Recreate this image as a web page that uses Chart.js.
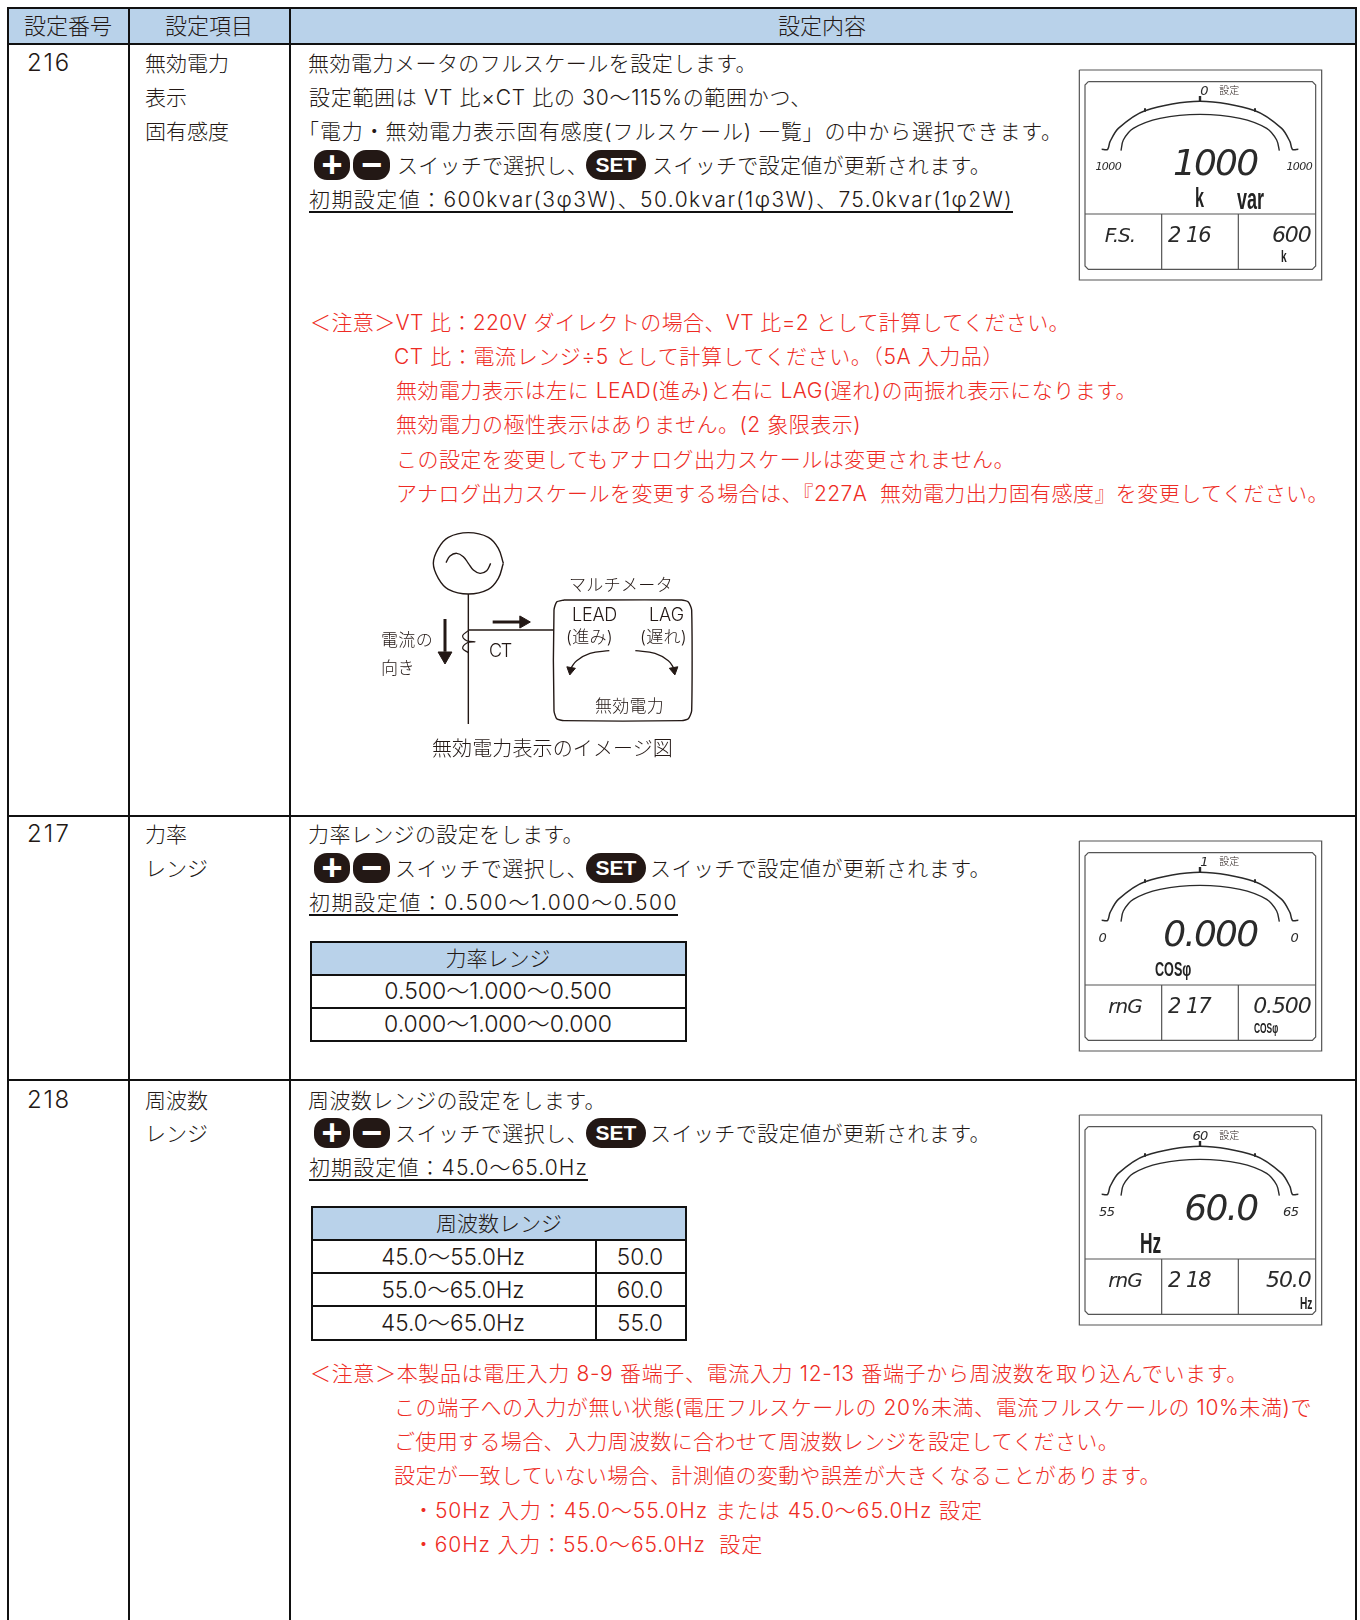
<!DOCTYPE html>
<html lang="ja">
<head>
<meta charset="utf-8">
<title>設定内容</title>
<script src="https://cdn.jsdelivr.net/npm/chart.js@4"></script>
<style>
html,body{margin:0;padding:0;background:#fff;}
#page{position:relative;width:1360px;height:1620px;overflow:hidden;background:#fff;color:#231815;font-family:Inter,"Noto Sans CJK JP","Noto Sans",sans-serif;font-weight:300;}
#page canvas{position:absolute;}
.rule{position:absolute;background:#111;}
.band{position:absolute;background:#b9d2ea;}
.t{position:absolute;white-space:pre;line-height:1;}
.red{color:#ee2b24;}
.under{border-bottom:2px solid #111;padding-bottom:1px;}
.btn{position:absolute;background:#231815;color:#fff;font-family:"Liberation Sans",sans-serif;font-weight:700;text-align:center;}
.lcd{font-family:"DejaVu Sans",sans-serif;font-style:italic;font-weight:200;color:#2a2a2a;letter-spacing:-.05em;}
.unit{font-family:"Liberation Sans",sans-serif;font-weight:700;color:#222;transform:scaleX(.6);transform-origin:left center;}
</style>
</head>
<body>
<div id="page"></div>
<script>
window.onload = init;

/* table text */
var headers = ['設定番号', '設定項目', '設定内容'];
var settingNumbers = ['216', '217', '218'];
var settingNames = ['無効電力', '表示', '固有感度', '力率', 'レンジ', '周波数', 'レンジ'];

var lines216 = ['無効電力メータのフルスケールを設定します。',
    '設定範囲は VT 比×CT 比の 30～115%の範囲かつ、',
    '「電力・無効電力表示固有感度(フルスケール) 一覧」の中から選択できます。',
    'スイッチで選択し、',
    'スイッチで設定値が更新されます。',
    '初期設定値：600kvar(3φ3W)、50.0kvar(1φ3W)、75.0kvar(1φ2W)'];
var notes216 = ['＜注意＞VT 比：220V ダイレクトの場合、VT 比=2 として計算してください。',
    'CT 比：電流レンジ÷5 として計算してください。（5A 入力品）',
    '無効電力表示は左に LEAD(進み)と右に LAG(遅れ)の両振れ表示になります。',
    '無効電力の極性表示はありません。(2 象限表示)',
    'この設定を変更してもアナログ出力スケールは変更されません。',
    'アナログ出力スケールを変更する場合は、『227A  無効電力出力固有感度』を変更してください。'];
var lines217 = ['力率レンジの設定をします。',
    'スイッチで選択し、',
    'スイッチで設定値が更新されます。',
    '初期設定値：0.500～1.000～0.500'];
var lines218 = ['周波数レンジの設定をします。',
    'スイッチで選択し、',
    'スイッチで設定値が更新されます。',
    '初期設定値：45.0～65.0Hz'];
var notes218 = ['＜注意＞本製品は電圧入力 8-9 番端子、電流入力 12-13 番端子から周波数を取り込んでいます。',
    'この端子への入力が無い状態(電圧フルスケールの 20%未満、電流フルスケールの 10%未満)で',
    'ご使用する場合、入力周波数に合わせて周波数レンジを設定してください。',
    '設定が一致していない場合、計測値の変動や誤差が大きくなることがあります。',
    '・50Hz 入力：45.0～55.0Hz または 45.0～65.0Hz 設定',
    '・60Hz 入力：55.0～65.0Hz  設定'];
var powerFactorTitle = '力率レンジ';
var powerFactorRanges = ['0.500～1.000～0.500', '0.000～1.000～0.000'];
var frequencyTitle = '周波数レンジ';
var frequencyRanges = ['45.0～55.0Hz', '55.0～65.0Hz', '45.0～65.0Hz'];
var frequencyCenters = ['50.0', '60.0', '55.0'];
var diagramLabels = ['電流の', '向き', 'CT', 'マルチメータ', 'LEAD', 'LAG', '(進み)', '(遅れ)', '無効電力', '無効電力表示のイメージ図'];
var switchLabels = ['+', '−', 'SET'];

/* meter readings */
var meterTop = ['0', '1', '60'];
var meterLeft = ['1000', '0', '55'];
var meterRight = ['1000', '0', '65'];
var meterMain = ['1000', '0.000', '60.0'];
var meterMode = ['F.S.', 'rnG', 'rnG'];
var meterNumber = ['2 16', '2 17', '2 18'];
var meterValue = ['600', '0.500', '50.0'];
var meterSetLabel = '設定';

/* gauge shape */
var gaugeOuterX = [125, 143, 150, 175, 255, 420, 585, 665, 690, 697, 715];
var gaugeOuterY = [268, 268, 245, 205, 152, 124, 152, 205, 245, 268, 268];
var gaugeInnerX = [183, 190, 220, 300, 420, 540, 620, 650, 658];
var gaugeInnerY = [272, 240, 205, 175, 163, 175, 205, 240, 272];

/* circuit diagram shape */
var sourceX = [430, 415, 385, 325, 265, 235, 220, 235, 265, 325, 385, 415, 430];
var sourceY = [130, 85, 52, 38, 52, 85, 130, 175, 208, 222, 208, 175, 130];
var waveX = [258, 270, 290, 310, 325, 340, 360, 380, 392];
var waveY = [128, 108, 100, 110, 130, 150, 160, 152, 130];
var coilX = [325, 308, 320, 345, 322, 308, 325];
var coilY = [332, 347, 362, 365, 368, 385, 398];
var meterBoxX = [612, 965, 985, 995, 995, 985, 965, 612, 590, 582, 582, 590, 612];
var meterBoxY = [240, 240, 246, 270, 572, 596, 602, 602, 596, 572, 270, 246, 240];
var leadX = [748, 690, 650, 632];
var leadY = [392, 400, 422, 445];
var lagX = [826, 885, 925, 942];
var lagY = [392, 400, 422, 445];

var page;

function pairs(xs, ys) {
    var out = [];
    for (var i = 0; i < xs.length; i++) {
        out.push({x: xs[i], y: ys[i]});
    }
    return out;
}

function rule(x, y, w, h) {
    var d = document.createElement('div');
    d.className = 'rule';
    d.style.cssText = 'left:' + x + 'px;top:' + y + 'px;width:' + w + 'px;height:' + h + 'px;';
    page.appendChild(d);
}

function band(x, y, w, h) {
    var d = document.createElement('div');
    d.className = 'band';
    d.style.cssText = 'left:' + x + 'px;top:' + y + 'px;width:' + w + 'px;height:' + h + 'px;';
    page.appendChild(d);
}

/* text by left edge and vertical center, stretched to end at xEnd if given */
function text(str, x, cy, size, cls, xEnd) {
    var d = document.createElement('div');
    d.className = 't ' + (cls || '');
    d.style.fontSize = size + 'px';
    d.textContent = str;
    page.appendChild(d);
    d.style.left = x + 'px';
    d.style.top = (cy - size / 2) + 'px';
    if (xEnd) {
        var w = d.getBoundingClientRect().width;
        d.style.letterSpacing = ((xEnd - x - w) / str.length) + 'px';
    }
    return d;
}

function centered(str, cx, cy, size, cls) {
    var d = text(str, 0, cy, size, cls);
    d.style.left = (cx - d.getBoundingClientRect().width / 2) + 'px';
    return d;
}

function rightAligned(str, xr, cy, size, cls) {
    var d = text(str, 0, cy, size, cls);
    d.style.left = (xr - d.getBoundingClientRect().width) + 'px';
    return d;
}

function button(label, x, y, w, h, radius, size) {
    var d = document.createElement('div');
    d.className = 'btn';
    d.style.cssText = 'left:' + x + 'px;top:' + y + 'px;width:' + w + 'px;height:' + h + 'px;border-radius:' + radius +
        'px;font-size:' + size + 'px;line-height:' + h + 'px;';
    d.textContent = label;
    page.appendChild(d);
}

function switches(y, setX) {
    button(switchLabels[0], 314, y, 36, 30, 13, 36);
    button(switchLabels[1], 353, y, 37, 30, 13, 36);
    button(switchLabels[2], setX, y, 60, 30, 15, 21);
}

function lineSet(color, width, xs, ys, tension) {
    return {
        data: pairs(xs, ys),
        showLine: true,
        borderColor: color,
        borderWidth: width,
        pointRadius: 0,
        tension: tension || 0
    };
}

function head(x, y, rotation, size) {
    return {
        data: [{x: x, y: y}],
        pointStyle: 'triangle',
        pointRadius: size,
        pointRotation: rotation,
        backgroundColor: '#231815',
        borderColor: '#231815'
    };
}

/* every canvas uses the coordinates of the picture crop it was read from */
function drawingChart(left, top, w, h, xMin, xMax, yMin, yMax, datasets) {
    var c = document.createElement('canvas');
    c.width = w;
    c.height = h;
    c.style.cssText = 'left:' + left + 'px;top:' + top + 'px;width:' + w + 'px;height:' + h + 'px;';
    page.appendChild(c);
    return new Chart(c, {
        type: 'scatter',
        data: {datasets: datasets},
        options: {
            responsive: false,
            animation: false,
            events: [],
            layout: {padding: 0, autoPadding: false},
            plugins: {legend: {display: false}, tooltip: {enabled: false}},
            scales: {
                x: {type: 'linear', display: false, min: xMin, max: xMax},
                y: {type: 'linear', display: false, min: yMin, max: yMax, reverse: true}
            }
        }
    });
}

function drawTables() {
    band(8, 9, 1347, 35);
    rule(7, 7, 1348, 2);
    rule(7, 43, 1348, 2);
    rule(7, 815, 1348, 2);
    rule(7, 1079, 1348, 2);
    rule(7, 7, 2, 1613);
    rule(128, 7, 2, 1613);
    rule(289, 7, 2, 1613);
    rule(1355, 7, 2, 1613);

    centered(headers[0], 68, 25.5, 22);
    centered(headers[1], 209, 25.5, 22);
    centered(headers[2], 822, 25.5, 22);

    text(settingNumbers[0], 27, 63, 24, '', 71);
    text(settingNumbers[1], 27, 834, 24, '', 71);
    text(settingNumbers[2], 27, 1100, 24, '', 71);
    text(settingNames[0], 145, 63, 21);
    text(settingNames[1], 145, 97, 21);
    text(settingNames[2], 145, 131, 21);
    text(settingNames[3], 145, 834, 21);
    text(settingNames[4], 145, 868, 21);
    text(settingNames[5], 145, 1100, 21);
    text(settingNames[6], 145, 1133, 21);

    /* power factor table */
    band(311, 942, 374, 32);
    rule(310, 941, 376, 2);
    rule(310, 974, 376, 2);
    rule(310, 1007, 376, 2);
    rule(310, 1040, 376, 2);
    rule(310, 941, 2, 101);
    rule(685, 941, 2, 101);
    centered(powerFactorTitle, 498, 958, 21);
    centered(powerFactorRanges[0], 498, 991, 23);
    centered(powerFactorRanges[1], 498, 1024, 23);

    /* frequency table */
    band(312, 1206, 373, 33);
    rule(311, 1206, 375, 2);
    rule(311, 1239, 375, 2);
    rule(311, 1272, 375, 2);
    rule(311, 1305, 375, 2);
    rule(311, 1339, 375, 2);
    rule(311, 1206, 2, 135);
    rule(685, 1206, 2, 135);
    rule(595, 1239, 2, 100);
    centered(frequencyTitle, 499, 1223, 21);
    for (var i = 0; i < frequencyRanges.length; i++) {
        centered(frequencyRanges[i], 453, 1257 + i * 33.3, 22.5);
        centered(frequencyCenters[i], 640, 1257 + i * 33.3, 22.5);
    }
}

function drawBody() {
    text(lines216[0], 308, 63, 21, '', 757);
    text(lines216[1], 309, 97, 21, '', 812);
    text(lines216[2], 298, 131, 21, '', 1063);
    switches(150, 586);
    text(lines216[3], 397, 165, 21, '', 588);
    text(lines216[4], 652, 165, 21, '', 991);
    text(lines216[5], 309, 199, 21, 'under', 1013);

    var x216 = [310, 394, 396, 396, 396, 396];
    var e216 = [1070, 1004, 1137, 861, 1015, 1329];
    var y216 = [322, 356, 390.5, 424.7, 459, 493];
    for (var i = 0; i < notes216.length; i++) {
        text(notes216[i], x216[i], y216[i], 21, 'red', e216[i]);
    }

    text(lines217[0], 308, 834, 21, '', 584);
    switches(853, 586);
    text(lines217[1], 395, 868, 21, '', 588);
    text(lines217[2], 650, 868, 21, '', 991);
    text(lines217[3], 309, 902, 21, 'under', 678);

    text(lines218[0], 308, 1100, 21, '', 606);
    switches(1118, 586);
    text(lines218[1], 395, 1133, 21, '', 588);
    text(lines218[2], 650, 1133, 21, '', 991);
    text(lines218[3], 309, 1167, 21, 'under', 588);

    var x218 = [310, 394, 394, 394, 413, 413];
    var e218 = [1248, 1312, 1119, 1161, 983, 763];
    var y218 = [1373, 1407.5, 1441.6, 1475.7, 1510, 1544];
    for (var j = 0; j < notes218.length; j++) {
        text(notes218[j], x218[j], y218[j], 21, 'red', e218[j]);
    }
}

function drawDiagram() {
    var ink = '#231815';
    drawingChart(360, 520, 360, 260, 0, 1080, 0, 780, [
        lineSet(ink, 1.4, sourceX, sourceY, 0.4),
        lineSet(ink, 1.4, waveX, waveY, 0.4),
        lineSet(ink, 1.4, [325, 325], [222, 612]),
        lineSet(ink, 1.4, [325, 582], [330, 330]),
        lineSet(ink, 1.2, coilX, coilY, 0.4),
        lineSet(ink, 1.4, meterBoxX, meterBoxY, 0.2),
        lineSet(ink, 3, [255, 255], [297, 395]),
        head(255, 408, 180, 8),
        lineSet(ink, 3, [398, 480], [306, 306]),
        head(490, 306, 90, 7),
        lineSet(ink, 1.3, leadX, leadY, 0.4),
        head(632, 450, 190, 5),
        lineSet(ink, 1.3, lagX, lagY, 0.4),
        head(942, 450, 170, 5)
    ]);
    text(diagramLabels[0], 381, 640, 17, '', 433);
    text(diagramLabels[1], 381, 668, 17, '', 414);
    text(diagramLabels[2], 489, 651, 18, '', 511);
    text(diagramLabels[3], 569, 585, 17, '', 673);
    text(diagramLabels[4], 572, 615, 18, '', 617);
    text(diagramLabels[5], 649, 615, 18, '', 684);
    text(diagramLabels[6], 566, 637, 17, '', 613);
    text(diagramLabels[7], 640, 637, 17, '', 687);
    text(diagramLabels[8], 595, 706, 17, '', 664);
    text(diagramLabels[9], 432, 749, 20, '', 673);
}

function drawMeter(n, cropY) {
    var ink = '#2a2a2a';
    var frame = '#555555';
    function px(zx) { return 1060 + zx / 3; }
    function py(zy) { return cropY + zy / 3; }

    drawingChart(1077, cropY + 7, 249, 217, 51, 798, 21, 672, [
        lineSet(frame, 1.2, [58, 785, 785, 58, 58], [30, 30, 660, 660, 30]),
        lineSet(frame, 1.2, [85, 757, 767, 767, 757, 85, 75, 75, 85], [65, 65, 75, 618, 628, 628, 618, 75, 65]),
        lineSet(frame, 1.2, [75, 767], [462, 462]),
        lineSet(frame, 1.2, [305, 305], [462, 628]),
        lineSet(frame, 1.2, [535, 535], [462, 628]),
        lineSet(ink, 1.5, gaugeOuterX, gaugeOuterY, 0.3),
        lineSet(ink, 1.4, gaugeInnerX, gaugeInnerY, 0.3),
        lineSet(ink, 2.4, [420, 420], [108, 124]),
        lineSet(ink, 2, [255, 255], [145, 155]),
        lineSet(ink, 2, [585, 585], [145, 155])
    ]);

    centered(meterTop[n], px(n === 2 ? 420 : 432), py(92), 13, 'lcd');
    text(meterSetLabel, px(478), py(90), 10, '');
    var tinyL = n === 0 ? 145 : (n === 1 ? 127 : 140);
    var tinyR = n === 0 ? 718 : (n === 1 ? 703 : 692);
    var tinySize = n === 0 ? 11 : 13;
    centered(meterLeft[n], px(tinyL), py(318), tinySize, 'lcd');
    centered(meterRight[n], px(tinyR), py(318), tinySize, 'lcd');
    rightAligned(meterMain[n], px(592), py(310), 36, 'lcd');
    centered(meterMode[n], px(n === 0 ? 180 : 195), py(525), 20, 'lcd');
    centered(meterNumber[n], px(388), py(525), 21, 'lcd');
    rightAligned(meterValue[n], px(752), py(525), 22, 'lcd');

    if (n === 0) {
        centered('k', px(420), py(415), 27, 'unit');
        centered('var', px(573), py(418), 30, 'unit');
        centered('k', px(672), py(590), 17, 'unit');
    } else if (n === 1) {
        centered('COSφ', px(338), py(412), 21, 'unit');
        centered('COSφ', px(618), py(590), 14, 'unit');
    } else {
        centered('Hz', px(272), py(416), 29, 'unit');
        centered('Hz', px(738), py(595), 17, 'unit');
    }
}

function init() {
    page = document.getElementById('page');
    drawTables();
    drawBody();
    drawDiagram();
    drawMeter(0, 60);
    drawMeter(1, 831);
    drawMeter(2, 1105);
}
</script>
</body>
</html>
